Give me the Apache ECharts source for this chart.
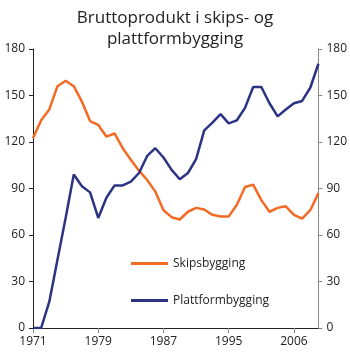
<!DOCTYPE html>
<html>
<head>
<meta charset="utf-8">
<script src="https://cdn.jsdelivr.net/npm/echarts@6/dist/echarts.min.js"></script>
<style>
  html, body { margin: 0; padding: 0; background: #fff; }
  #chart { width: 350px; height: 356px; }
</style>
</head>
<body>
<div id="chart"></div>
<script>
// years 1971-2006, one point per year
const years = []
for (let y = 1971; y <= 2006; y++) years.push(String(y))

// labels shown under every 8th point
const tickLabels = ['1971', '1979', '1987', '1995', '2006']

const skipsbygging = [
  122.5, 134, 141, 156, 159.5, 156, 146, 133.5, 131, 123.5,
  125.5, 116, 108.5, 101.5, 95.5, 88, 76, 71.5, 70, 75,
  77.5, 76.5, 73, 72, 72, 79.5, 91, 92.5, 82.5, 75,
  77.5, 78.5, 73, 70.5, 76, 87
]

const plattformbygging = [
  0, 0, 17, 44, 71, 99, 91.5, 87.5, 71, 84,
  92, 92, 94.5, 100, 111, 116, 110, 102, 96, 100,
  109, 127.5, 132.5, 138, 132, 134, 142, 155.5, 155.5, 145,
  136.5, 141, 145, 146.5, 155, 170.5
]

const FONT = '"Open Sans", sans-serif'
const chart = echarts.init(document.getElementById('chart'))

const yAxisBase = {
  type: 'value',
  min: 0,
  max: 180,
  interval: 30,
  splitLine: { show: false },
  axisTick: { show: true, length: 4 },
  axisLabel: { color: '#222', fontSize: 12, fontFamily: FONT }
}

chart.setOption({
  animation: false,
  title: {
    text: 'Bruttoprodukt i skips- og\nplattformbygging',
    left: 'center',
    top: 3,
    textStyle: {
      color: '#222',
      fontSize: 17,
      fontWeight: 'normal',
      fontFamily: FONT,
      lineHeight: 21
    }
  },
  grid: { left: 33, right: 30, top: 49, bottom: 28 },
  legend: {
    orient: 'vertical',
    left: 126,
    top: 250,
    itemWidth: 37,
    itemHeight: 3,
    itemGap: 20,
    icon: 'rect',
    textStyle: { color: '#222', fontSize: 12, fontFamily: FONT, lineHeight: 17 },
    data: ['Skipsbygging', 'Plattformbygging']
  },
  xAxis: [
    {
      type: 'category',
      data: years,
      boundaryGap: false,
      axisLine: { lineStyle: { color: '#888', width: 1 } },
      axisTick: {
        length: 5,
        interval: (i) => i % 8 === 0,
        lineStyle: { color: '#888' }
      },
      axisLabel: {
        interval: 0,
        color: '#222',
        fontSize: 12,
        fontFamily: FONT,
        margin: 8,
        formatter: (v, i) => (i % 8 === 0 ? tickLabels[i / 8] : '')
      }
    },
    {
      type: 'category',
      data: years,
      position: 'top',
      boundaryGap: false,
      axisLine: { lineStyle: { color: '#222', width: 1 } },
      axisTick: { show: false },
      axisLabel: { show: false }
    }
  ],
  yAxis: [
    Object.assign({}, yAxisBase, {
      position: 'left',
      axisLine: { show: true, lineStyle: { color: '#222' } },
      axisTick: { show: true, length: 4, lineStyle: { color: '#222' } }
    }),
    Object.assign({}, yAxisBase, {
      position: 'right',
      axisLine: { show: true, lineStyle: { color: '#888' } },
      axisTick: { show: true, length: 4, lineStyle: { color: '#888' } }
    })
  ],
  series: [
    {
      name: 'Skipsbygging',
      type: 'line',
      data: skipsbygging,
      symbol: 'none',
      color: '#f26a24',
      lineStyle: { width: 2.5 }
    },
    {
      name: 'Plattformbygging',
      type: 'line',
      data: plattformbygging,
      symbol: 'none',
      color: '#2c3383',
      lineStyle: { width: 2.5 }
    }
  ]
})
</script>
</body>
</html>
